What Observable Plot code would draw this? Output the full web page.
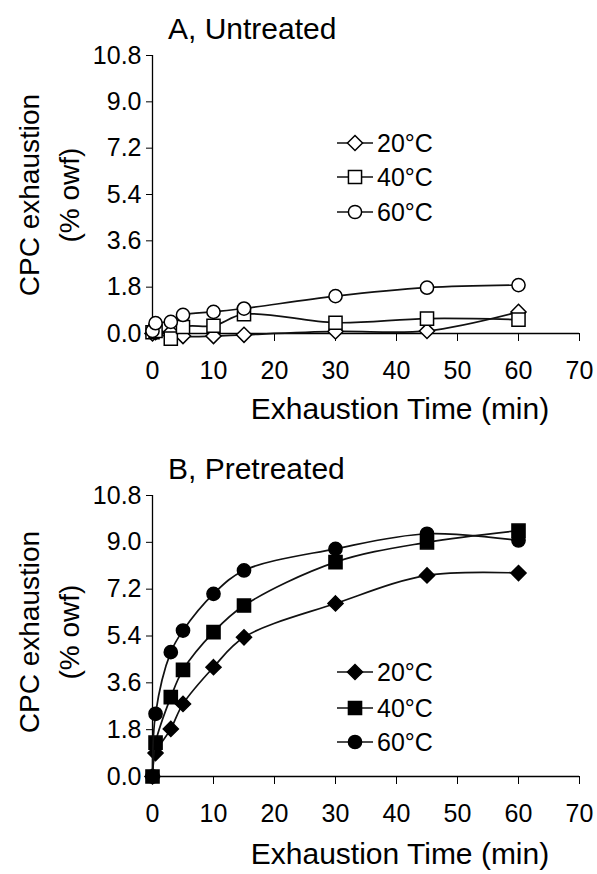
<!DOCTYPE html>
<html>
<head>
<meta charset="utf-8">
<script src="https://cdn.jsdelivr.net/npm/d3@7"></script>
<script src="https://cdn.jsdelivr.net/npm/@observablehq/plot@0.6"></script>
<style>
  html, body { margin: 0; padding: 0; background: #fff; }
  #wrap { position: relative; width: 597px; height: 874px; overflow: hidden; font-family: "Liberation Sans", Arial, sans-serif; }
  #wrap > svg, #wrap > figure { position: absolute; left: 0; margin: 0; }
</style>
</head>
<body>
<div id="wrap"></div>
<script>
// ---- data ----
const times = [0, 0.5, 3, 5, 10, 15, 30, 45, 60];
const seriesNames = ["20°C", "40°C", "60°C"];
const panelTitles = ["A, Untreated", "B, Pretreated"];
const xTicks = [0, 10, 20, 30, 40, 50, 60, 70];
const yTicks = [0, 1.8, 3.6, 5.4, 7.2, 9.0, 10.8];
const yTickLabels = ["0.0", "1.8", "3.6", "5.4", "7.2", "9.0", "10.8"];
const xTitle = "Exhaustion Time (min)";
const yTitle1 = "CPC exhaustion";
const yTitle2 = "(% owf)";

const untreated20 = [0.0, 0.05, 0.05, -0.1, -0.1, -0.05, 0.08, 0.1, 0.84];
const untreated40 = [0.05, 0.1, -0.2, 0.25, 0.3, 0.75, 0.42, 0.58, 0.54];
const untreated60 = [0.1, 0.4, 0.45, 0.72, 0.84, 0.97, 1.45, 1.78, 1.88];

const pretreated20 = [0.0, 0.9, 1.83, 2.79, 4.2, 5.35, 6.65, 7.73, 7.82];
const pretreated40 = [0.0, 1.3, 3.05, 4.1, 5.55, 6.57, 8.24, 9.0, 9.45];
const pretreated60 = [0.0, 2.41, 4.78, 5.61, 7.02, 7.92, 8.75, 9.33, 9.07];

const symbols = ["diamond2", "square", "circle"];
const symbolR = [6.8, 7.4, 6.6];

function toRows(arrays) {
  const rows = [];
  arrays.forEach((arr, s) => arr.forEach((v, i) => rows.push({ t: times[i], v, s })));
  return rows;
}

function panel(arrays, filled, height, marginBottom) {
  const rows = toRows(arrays);
  const marks = [
    Plot.ruleY([0], { stroke: "#000", strokeWidth: 1.3 }),
    Plot.ruleX([0], { y1: 0, y2: 10.8, stroke: "#000", strokeWidth: 1.3 })
  ];
  for (let s = 0; s < 3; s++) {
    const d = rows.filter(r => r.s === s);
    marks.push(Plot.line(d, { x: "t", y: "v", curve: "catmull-rom", stroke: "#111", strokeWidth: 1.7 }));
    marks.push(Plot.dot(d, {
      x: "t", y: "v", symbol: () => symbols[s], r: symbolR[s],
      fill: filled ? "#000" : "#fff", stroke: "#000", strokeWidth: 1.5
    }));
  }
  return Plot.plot({
    width: 597, height,
    marginLeft: 152, marginRight: 18, marginTop: 55, marginBottom,
    style: { fontFamily: "Liberation Sans, Arial, sans-serif", fontSize: "25px", color: "#000", background: "transparent", overflow: "visible" },
    x: { domain: [0, 70], ticks: xTicks, tickFormat: d => String(d), tickSize: 8, tickPadding: 20, label: null },
    y: { domain: [0, 10.8], ticks: yTicks, tickFormat: d => yTickLabels[yTicks.findIndex(t => Math.abs(t - d) < 1e-9)], tickSize: 6, tickPadding: 5, label: null },
    symbol: { type: "identity" },
    marks
  });
}

const wrap = document.getElementById("wrap");
const pA = panel([untreated20, untreated40, untreated60], false, 437, 104);
pA.style.top = "0px";
wrap.appendChild(pA);
const pB = panel([pretreated20, pretreated40, pretreated60], true, 434, 98);
pB.style.top = "440px";
wrap.appendChild(pB);

// ---- overlay: titles, axis titles, legends ----
const ov = d3.select(wrap).append("svg")
  .attr("width", 597).attr("height", 874)
  .style("top", "0px").style("pointer-events", "none")
  .style("font-family", "Liberation Sans, Arial, sans-serif");

const layouts = [
  { top: 0, titleY: 39, xTitleY: 419, yMid: 195, legY: [143, 177, 212], filled: false },
  { top: 440, titleY: 479, xTitleY: 864, yMid: 632, legY: [672, 708, 742], filled: true }
];

const symMap = { circle: d3.symbolCircle, square: d3.symbolSquare, diamond2: d3.symbolDiamond2 };
layouts.forEach((L, p) => {
  ov.append("text").attr("x", 168).attr("y", L.titleY).attr("font-size", 30).text(panelTitles[p]);
  ov.append("text").attr("x", 400).attr("y", L.xTitleY).attr("font-size", 30).attr("text-anchor", "middle").text(xTitle);
  ov.append("text").attr("transform", `translate(39,${L.yMid}) rotate(-90)`).attr("font-size", 28).attr("text-anchor", "middle").text(yTitle1);
  ov.append("text").attr("transform", `translate(79,${L.yMid}) rotate(-90)`).attr("font-size", 28).attr("text-anchor", "middle").text(yTitle2);
  seriesNames.forEach((name, s) => {
    const y = L.legY[s];
    ov.append("line").attr("x1", 337).attr("x2", 373).attr("y1", y).attr("y2", y).attr("stroke", "#111").attr("stroke-width", 1.7);
    ov.append("path")
      .attr("d", d3.symbol(symMap[symbols[s]], Math.PI * symbolR[s] * symbolR[s])())
      .attr("transform", `translate(355,${y})`)
      .attr("fill", L.filled ? "#000" : "#fff").attr("stroke", "#000").attr("stroke-width", 1.5);
    ov.append("text").attr("x", 377).attr("y", y).attr("dy", "0.36em").attr("font-size", 25).text(name);
  });
});
</script>
</body>
</html>
